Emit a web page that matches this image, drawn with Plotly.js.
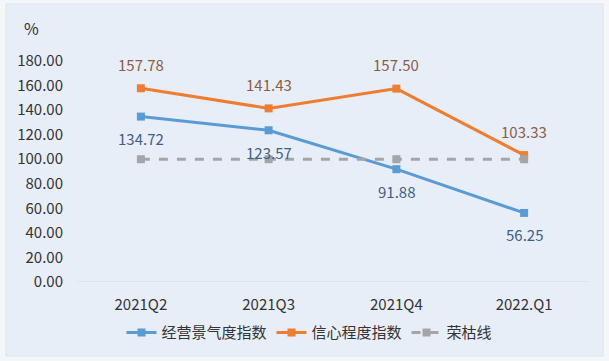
<!DOCTYPE html>
<html>
<head>
<meta charset="utf-8">
<script src="https://cdn.plot.ly/plotly-3.0.1.min.js"></script>
<style>html,body{margin:0;padding:0;background:#f4f6fa;}#chart{width:609px;height:361px;}</style>
</head>
<body>
<div id="chart"></div>
<script>
const categories = ['2021Q2', '2021Q3', '2021Q4', '2022.Q1'];
const businessIndex = [134.72, 123.57, 91.88, 56.25];
const confidenceIndex = [157.78, 141.43, 157.50, 103.33];
const boomLine = [100, 100, 100, 100];
const yTicks = [0, 20, 40, 60, 80, 100, 120, 140, 160, 180];

const font = '"Noto Sans CJK SC", "Noto Sans", sans-serif';
const blue = '#5b9bd5', orange = '#ed7d31', gray = '#a5a5a5';

const traces = [
  {x: categories, y: businessIndex, name: '经营景气度指数', type: 'scatter', mode: 'lines+markers',
   line: {color: blue, width: 3}, marker: {symbol: 'square', size: 8, color: blue}},
  {x: categories, y: confidenceIndex, name: '信心程度指数', type: 'scatter', mode: 'lines+markers',
   line: {color: orange, width: 3}, marker: {symbol: 'square', size: 8, color: orange}},
  {x: categories, y: boomLine, name: '荣枯线', type: 'scatter', mode: 'lines+markers',
   line: {color: gray, width: 3, dash: 'dash'}, marker: {symbol: 'square', size: 8, color: gray}}
];

const annotations = [];
categories.forEach((c, i) => {
  annotations.push({x: c, y: confidenceIndex[i], text: confidenceIndex[i].toFixed(2), showarrow: false,
    yshift: 24, font: {family: font, size: 15, color: '#8a5d45'}});
  annotations.push({x: c, y: businessIndex[i], text: businessIndex[i].toFixed(2), showarrow: false,
    yshift: -22, font: {family: font, size: 15, color: '#3e5f86'}});
});
annotations.push({xref: 'paper', yref: 'paper', x: (31 - 77) / 511, y: (282 - 28) / 221, text: '%',
  showarrow: false, xanchor: 'center', yanchor: 'middle', font: {family: font, size: 16, color: '#333'}});

const layout = {
  width: 609, height: 361,
  margin: {l: 77, r: 21, t: 61, b: 79},
  paper_bgcolor: '#f4f6fa', plot_bgcolor: '#e8eef8',
  font: {family: font, size: 15, color: '#333'},
  showlegend: true,
  legend: {orientation: 'h', x: 0.455, xanchor: 'center', y: -0.23, yanchor: 'middle',
    font: {family: font, size: 15, color: '#333'}, bgcolor: 'rgba(0,0,0,0)', traceorder: 'normal', itemwidth: 30},
  xaxis: {type: 'category', range: [-0.5, 3.5], showgrid: false, zeroline: false, showline: false,
    ticks: 'outside', ticklen: 9, tickcolor: 'rgba(0,0,0,0)', tickfont: {family: font, size: 15, color: '#333'}, fixedrange: true},
  yaxis: {range: [0, 180], tickvals: yTicks, ticktext: yTicks.map(v => v.toFixed(2)), showgrid: false,
    zeroline: false, showline: false, ticks: 'outside', ticklen: 10, tickcolor: 'rgba(0,0,0,0)',
    tickfont: {family: font, size: 15, color: '#333'}, fixedrange: true},
  annotations: annotations,
  shapes: [
    {type: 'rect', xref: 'paper', yref: 'paper', x0: (6 - 77) / 511, x1: (603 - 77) / 511,
     y0: (282 - 356) / 221, y1: (282 - 4) / 221, line: {color: '#dde3ec', width: 1}, fillcolor: '#e8eef8', layer: 'below'},
    {type: 'line', xref: 'paper', yref: 'y', x0: 0, x1: 1, y0: 0, y1: 0, line: {color: '#d5dae2', width: 1}}
  ]
};

Plotly.newPlot('chart', traces, layout, {displayModeBar: false, staticPlot: true});
</script>
</body>
</html>
